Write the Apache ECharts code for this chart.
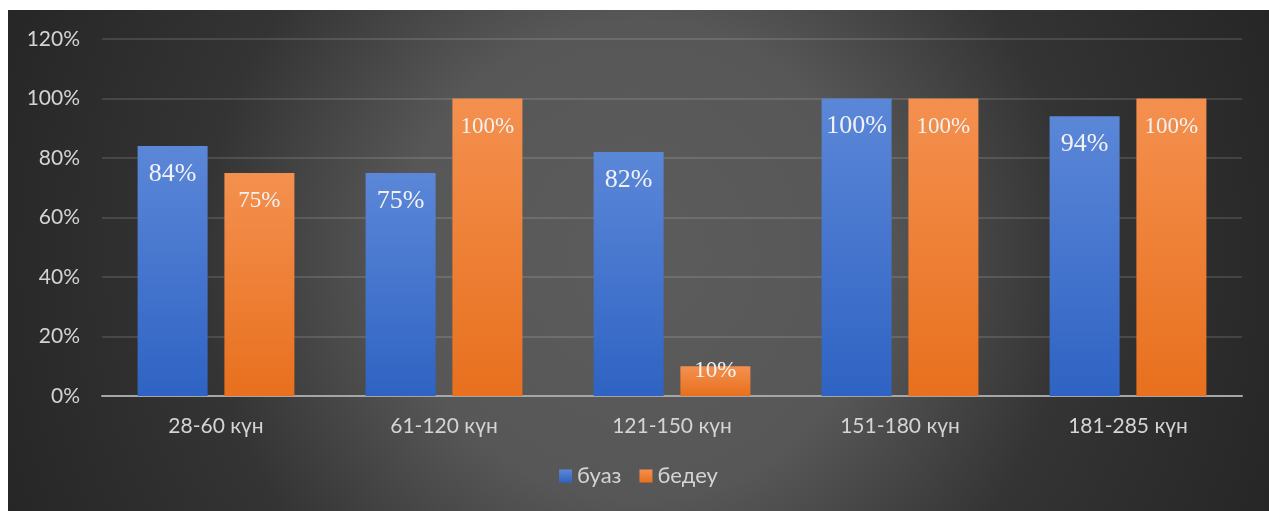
<!DOCTYPE html>
<html>
<head>
<meta charset="utf-8">
<script src="https://cdn.jsdelivr.net/npm/echarts@6/dist/echarts.min.js"></script>
<style>
  html, body { margin: 0; padding: 0; background: #ffffff; }
  #chart { position: absolute; left: 8px; top: 10px; width: 1261px; height: 501px; }
</style>
</head>
<body>
<div id="chart"></div>
<script>
const categories = ['28-60 күн', '61-120 күн', '121-150 күн', '151-180 күн', '181-285 күн'];
const seriesNames = ['буаз', 'бедеу'];
const buazValues = [84, 75, 82, 100, 94];
const bedeuValues = [75, 100, 10, 100, 100];
const yTicks = [0, 20, 40, 60, 80, 100, 120];

const chart = echarts.init(document.getElementById('chart'), null, { renderer: 'canvas' });

function grad(top, bottom) {
  return new echarts.graphic.LinearGradient(0, 0, 0, 1, [
    { offset: 0, color: top },
    { offset: 1, color: bottom }
  ]);
}

const bedeuData = bedeuValues.map(function (v) {
  if (v < 15) {
    return { value: v, label: { position: 'insideTop', distance: 0, offset: [0, -7] } };
  }
  return v;
});

chart.setOption({
  backgroundColor: {
    type: 'radial', x: 630, y: 250, r: 680, global: true,
    colorStops: [
      { offset: 0, color: '#5c5c5c' },
      { offset: 0.35, color: '#575757' },
      { offset: 0.64, color: '#343434' },
      { offset: 1, color: '#262626' }
    ]
  },
  animation: false,
  grid: { left: 94, right: 27, top: 29, bottom: 115, containLabel: false },
  legend: {
    bottom: 19,
    left: 'center',
    icon: 'rect',
    itemWidth: 13,
    itemHeight: 13,
    itemGap: 18,
    textStyle: { color: '#d4d4d4', fontFamily: 'Lato', fontSize: 22 },
    data: seriesNames
  },
  xAxis: {
    type: 'category',
    data: categories,
    axisLine: { show: true, lineStyle: { color: '#a6a6a6', width: 2 } },
    axisTick: { show: false },
    axisLabel: { color: '#d4d4d4', fontFamily: 'Lato', fontSize: 21, margin: 20 },
    splitLine: { show: false }
  },
  yAxis: {
    type: 'value',
    min: yTicks[0],
    max: yTicks[yTicks.length - 1],
    interval: 20,
    axisLine: { show: false },
    axisTick: { show: false },
    axisLabel: { color: '#d4d4d4', fontFamily: 'Lato', fontSize: 21, margin: 22, formatter: '{value}%' },
    splitLine: { show: true, lineStyle: { color: 'rgba(255,255,255,0.12)', width: 2 } }
  },
  series: [
    {
      name: seriesNames[0],
      type: 'bar',
      data: buazValues,
      barWidth: 70,
      barGap: '24%',
      itemStyle: { color: grad('#5b87d8', '#2f63c3') },
      label: {
        show: true, position: 'insideTop', distance: 15,
        formatter: '{c}%', color: '#f2f2f2',
        fontFamily: 'Liberation Serif', fontSize: 26
      }
    },
    {
      name: seriesNames[1],
      type: 'bar',
      data: bedeuData,
      barWidth: 70,
      barGap: '24%',
      itemStyle: { color: grad('#f4904f', '#e8701e') },
      label: {
        show: true, position: 'insideTop', distance: 17,
        formatter: '{c}%', color: '#f2f2f2',
        fontFamily: 'Liberation Serif', fontSize: 23
      }
    }
  ]
});
</script>
</body>
</html>
